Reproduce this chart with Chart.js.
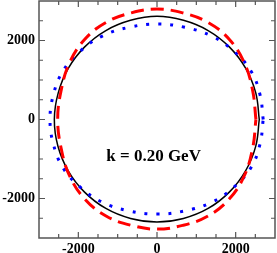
<!DOCTYPE html>
<html>
<head>
<meta charset="utf-8">
<style>
  html, body { margin: 0; padding: 0; background: #fff; }
  #wrap { width: 277px; height: 253px; position: relative; }
</style>
<script src="https://cdn.jsdelivr.net/npm/chart.js"></script>
</head>
<body>
<div id="wrap"><canvas id="c"></canvas></div>
<script>
// curves, points going round counter-clockwise from +x
const solidX = [2600, 2511, 2252, 1838, 1300, 673, 0, -673, -1300, -1838, -2252, -2511, -2610, -2520, -2258, -1842, -1300, -672, 0, 672, 1300, 1838, 2252, 2511, 2600];
const solidY = [0, 673, 1300, 1838, 2252, 2511, 2615, 2511, 2252, 1838, 1300, 673, 0, -672, -1300, -1838, -2252, -2505, -2595, -2505, -2252, -1838, -1300, -673, 0];

const dashX = [2515, 2434, 2226, 1835, 1285, 652, 0, -652, -1285, -1835, -2230, -2440, -2525, -2440, -2230, -1835, -1285, -652, 0, 652, 1285, 1835, 2226, 2434, 2515];
const dashY = [0, 722, 1423, 2032, 2464, 2700, 2795, 2700, 2464, 2032, 1423, 722, 0, -715, -1410, -2015, -2450, -2680, -2775, -2680, -2450, -2015, -1410, -715, 0];

const dotX = [2700, 2620, 2391, 1952, 1380, 704, 0, -704, -1380, -1952, -2395, -2635, -2720, -2635, -2395, -1952, -1380, -704, 0, 704, 1380, 1952, 2391, 2620, 2700];
const dotY = [0, 624, 1223, 1730, 2118, 2335, 2418, 2335, 2118, 1730, 1223, 624, 0, -620, -1215, -1715, -2100, -2315, -2395, -2315, -2100, -1715, -1215, -620, 0];

const axisMin = -3000, axisMax = 3000;
const labelTicks = [-2000, 0, 2000];
const label = 'k = 0.20 GeV';

const pts = (xs, ys) => xs.map((x, i) => ({ x: x, y: ys[i] }));
const serif = '"Liberation Serif", "DejaVu Serif", serif';

// frame, inward ticks on all four sides, and the text label
const framePlugin = {
    id: 'frame',
    afterDraw(chart) {
        const { ctx, chartArea: a, scales } = chart;
        const xs = scales.x, ys = scales.y;
        ctx.save();
        ctx.strokeStyle = '#555';
        ctx.lineWidth = 1.5;
        ctx.strokeRect(a.left, a.top, a.right - a.left, a.bottom - a.top);
        ctx.lineWidth = 1.2;
        for (let v = axisMin + 500; v < axisMax; v += 500) {
            const len = labelTicks.includes(v) ? 6 : 4;
            const px = xs.getPixelForValue(v);
            const py = ys.getPixelForValue(v);
            ctx.beginPath();
            ctx.moveTo(px, a.bottom); ctx.lineTo(px, a.bottom - len);
            ctx.moveTo(px, a.top); ctx.lineTo(px, a.top + len);
            ctx.moveTo(a.left, py); ctx.lineTo(a.left + len, py);
            ctx.moveTo(a.right, py); ctx.lineTo(a.right - len, py);
            ctx.stroke();
        }
        ctx.fillStyle = '#000';
        ctx.font = 'bold 17px ' + serif;
        ctx.textBaseline = 'alphabetic';
        ctx.textAlign = 'left';
        ctx.fillText(label, xs.getPixelForValue(-1290), ys.getPixelForValue(-1063));
        ctx.restore();
    }
};

new Chart(document.getElementById('c'), {
    type: 'scatter',
    data: {
        datasets: [
            {
                label: 'dashed',
                data: pts(dashX, dashY),
                showLine: true,
                borderColor: '#ff0000',
                borderWidth: 3,
                borderDash: [13, 7],
                tension: 0.4,
                pointRadius: 0,
                order: 1
            },
            {
                label: 'dotted',
                data: pts(dotX, dotY),
                showLine: true,
                borderColor: '#0000ff',
                borderWidth: 3,
                borderDash: [3, 9],
                tension: 0.4,
                pointRadius: 0,
                order: 2
            },
            {
                label: 'solid',
                data: pts(solidX, solidY),
                showLine: true,
                borderColor: '#000',
                borderWidth: 1.5,
                tension: 0.4,
                pointRadius: 0,
                order: 3
            }
        ]
    },
    options: {
        responsive: true,
        maintainAspectRatio: false,
        animation: false,
        layout: { padding: { top: 1, right: 2, left: 0, bottom: 0 } },
        plugins: { legend: { display: false }, tooltip: { enabled: false } },
        scales: {
            x: {
                type: 'linear',
                min: axisMin,
                max: axisMax,
                afterFit: s => { s.height = 15; s.paddingLeft = 0; s.paddingRight = 0; },
                afterBuildTicks: s => { s.ticks = labelTicks.map(v => ({ value: v })); },
                grid: { display: false, drawTicks: false },
                border: { display: false },
                ticks: {
                    autoSkip: false,
                    maxRotation: 0,
                    padding: 3,
                    color: '#000',
                    font: { family: serif, size: 14, weight: 'bold' },
                    callback: v => String(v)
                }
            },
            y: {
                type: 'linear',
                min: axisMin,
                max: axisMax,
                afterFit: s => { s.width = 39; s.paddingTop = 0; s.paddingBottom = 0; },
                afterBuildTicks: s => { s.ticks = labelTicks.map(v => ({ value: v })); },
                grid: { display: false, drawTicks: false },
                border: { display: false },
                ticks: {
                    autoSkip: false,
                    padding: 4,
                    color: '#000',
                    font: { family: serif, size: 14, weight: 'bold' },
                    callback: v => String(v)
                }
            }
        }
    },
    plugins: [framePlugin]
});
</script>
</body>
</html>
